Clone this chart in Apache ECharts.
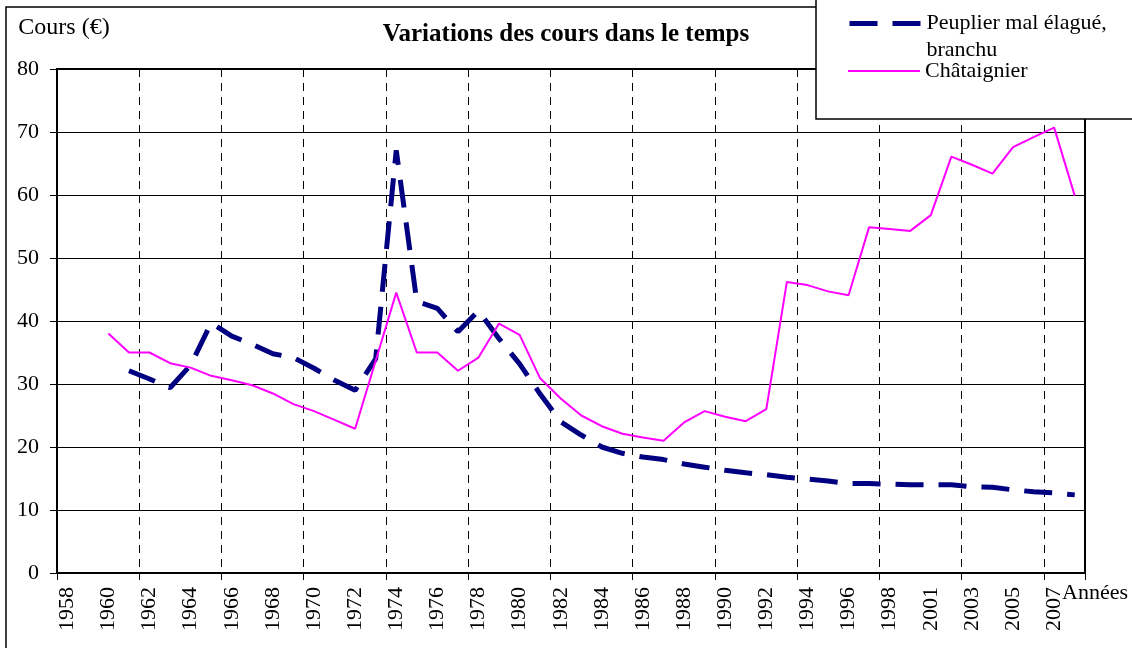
<!DOCTYPE html>
<html>
<head>
<meta charset="utf-8">
<script src="https://cdn.jsdelivr.net/npm/echarts@6/dist/echarts.min.js"></script>
<style>
  html, body { margin: 0; padding: 0; background: #fff; }
  #chart { width: 1132px; height: 648px; }
</style>
</head>
<body>
<div id="chart"></div>
<script>
// years on the category axis (2000 is missing in the source sheet)
const years = [
  '1958', '1959', '1960', '1961', '1962', '1963', '1964', '1965', '1966', '1967',
  '1968', '1969', '1970', '1971', '1972', '1973', '1974', '1975', '1976', '1977',
  '1978', '1979', '1980', '1981', '1982', '1983', '1984', '1985', '1986', '1987',
  '1988', '1989', '1990', '1991', '1992', '1993', '1994', '1995', '1996', '1997',
  '1998', '1999', '2001', '2002', '2003', '2004', '2005', '2006', '2007', '2008'
];

const peuplierName = 'Peuplier mal élagué, branchu';
const chataignierName = 'Châtaignier';

// prices in €
const peuplier = [
  null, null, null, 32.1, 30.8, 29.4, 33.0, 39.7, 37.6, 36.3,
  34.8, 34.2, 32.5, 30.6, 29.0, 34.0, 67.1, 43.1, 42.0, 38.3,
  41.6, 37.2, 33.2, 28.4, 24.0, 21.9, 20.0, 19.0, 18.4, 18.0,
  17.3, 16.8, 16.3, 15.9, 15.6, 15.2, 14.9, 14.6, 14.2, 14.2,
  14.1, 14.0, 14.0, 14.0, 13.7, 13.6, 13.2, 12.9, 12.7, 12.4
];

const chataignier = [
  null, null, 38.0, 35.0, 35.0, 33.3, 32.6, 31.3, 30.6, 29.8,
  28.5, 26.8, 25.7, 24.3, 22.9, 33.7, 44.5, 35.0, 35.0, 32.1,
  34.2, 39.6, 37.8, 30.9, 27.7, 25.0, 23.3, 22.1, 21.5, 21.0,
  23.9, 25.7, 24.8, 24.1, 26.0, 46.2, 45.7, 44.7, 44.1, 54.9,
  54.6, 54.3, 56.8, 66.1, 64.8, 63.4, 67.6, 69.2, 70.7, 59.9
];

const FONT = "'Liberation Serif', 'Times New Roman', serif";
const PEUPLIER_DASH = [28, 15];

const chart = echarts.init(document.getElementById('chart'), null, { renderer: 'canvas' });

chart.setOption({
  backgroundColor: '#fff',
  animation: false,
  textStyle: { fontFamily: FONT, color: '#000' },
  title: {
    text: 'Variations des cours dans le temps',
    left: 'center',
    top: 22,
    padding: 0,
    textStyle: { fontFamily: FONT, fontSize: 25, fontWeight: 'bold', color: '#000' }
  },
  legend: [
    {
      data: [peuplierName],
      orient: 'vertical',
      left: 847,
      top: -17,
      padding: 0,
      itemWidth: 72,
      itemHeight: 14,
      z: 200,
      selectedMode: false,
      // blank first line so the sample sits level with the first text line
      formatter: () => ' \nPeuplier mal élagué,\nbranchu',
      itemStyle: { opacity: 0 },
      lineStyle: { width: 5, type: PEUPLIER_DASH, cap: 'butt' },
      textStyle: { fontFamily: FONT, fontSize: 22, color: '#000', lineHeight: 27 }
    },
    {
      data: [chataignierName],
      orient: 'vertical',
      left: 847,
      top: 59,
      padding: 0,
      itemWidth: 72,
      itemHeight: 14,
      z: 200,
      selectedMode: false,
      itemStyle: { opacity: 0 },
      lineStyle: { width: 2 },
      textStyle: { fontFamily: FONT, fontSize: 22, color: '#000', lineHeight: 24 }
    }
  ],
  grid: {
    left: 57, right: 47, top: 69, bottom: 75,
    outerBoundsMode: 'none',
    show: true,
    borderColor: '#000',
    borderWidth: 2,
    backgroundColor: 'transparent'
  },
  xAxis: {
    type: 'category',
    data: years,
    boundaryGap: true,
    name: 'Années',
    nameLocation: 'end',
    nameGap: -23,
    nameMoveOverlap: false,
    nameTextStyle: { fontFamily: FONT, fontSize: 22, color: '#000', align: 'left', verticalAlign: 'top', padding: [9, 0, 0, 0] },
    axisLine: { lineStyle: { color: '#000', width: 2 } },
    axisTick: { show: true, interval: 3, length: 7, lineStyle: { color: '#000', width: 1 } },
    axisLabel: { interval: 1, rotate: 90, margin: 14, fontFamily: FONT, fontSize: 22, color: '#000' },
    splitLine: { show: true, interval: 3, lineStyle: { color: '#000', width: 1, type: [8, 6] } }
  },
  yAxis: {
    type: 'value',
    min: 0,
    max: 80,
    interval: 10,
    name: 'Cours (€)',
    nameLocation: 'end',
    nameGap: 41,
    nameMoveOverlap: false,
    nameTextStyle: { fontFamily: FONT, fontSize: 24, color: '#000', align: 'center', verticalAlign: 'middle', padding: [0, 0, 0, 14] },
    axisLine: { show: true, lineStyle: { color: '#000', width: 2 } },
    axisTick: { show: true, length: 7, lineStyle: { color: '#000', width: 1 } },
    axisLabel: { margin: 18, fontFamily: FONT, fontSize: 22, color: '#000' },
    splitLine: { show: true, lineStyle: { color: '#000', width: 1 } }
  },
  series: [
    {
      name: peuplierName,
      type: 'line',
      data: peuplier,
      symbol: 'none',
      z: 3,
      lineStyle: { color: '#000080', width: 5, type: PEUPLIER_DASH, cap: 'butt' },
      itemStyle: { color: '#000080' }
    },
    {
      name: chataignierName,
      type: 'line',
      data: chataignier,
      symbol: 'none',
      z: 4,
      lineStyle: { color: '#ff00ff', width: 2 },
      itemStyle: { color: '#ff00ff' }
    }
  ],
  graphic: [
    // outer frame of the sheet (only top/left edges fall inside the picture)
    {
      type: 'rect', z: 1, silent: true,
      shape: { x: 6, y: 7, width: 1200, height: 700 },
      style: { fill: 'none', stroke: '#000', lineWidth: 1.5 }
    },
    // legend box, white, sits over the top right of the plot
    {
      type: 'rect', z: 100, silent: true,
      shape: { x: 816, y: -20, width: 400, height: 139 },
      style: { fill: '#fff', stroke: '#000', lineWidth: 1.5 }
    }
  ]
});
</script>
</body>
</html>
